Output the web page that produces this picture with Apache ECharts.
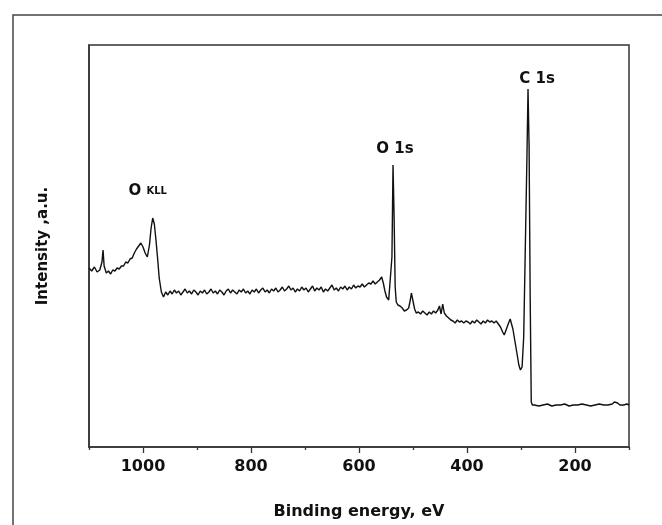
<!DOCTYPE html>
<html>
<head>
<meta charset="utf-8">
<script src="https://cdn.jsdelivr.net/npm/echarts@6/dist/echarts.min.js"></script>
<style>html,body{margin:0;padding:0;background:#fff;}#c{width:662px;height:525px;}</style>
</head>
<body>
<div id="c"></div>
<script>
// Binding energy (eV) and intensity (a.u.)
const energy = [
 1100,1095,1090,1085,1080,1076,1074,1072,1068,1064,1060,1056,1052,1048,1044,1040,1036,1032,1028,1024,
 1020,1016,1012,1008,1004,1000,996,992,988,985,982,979,976,973,970,966,962,958,954,950,
 946,942,938,934,930,926,922,918,914,910,906,902,898,894,890,886,882,878,874,870,
 866,862,858,854,850,846,842,838,834,830,826,822,818,814,810,806,802,798,794,790,
 786,782,778,774,770,766,762,758,754,750,746,742,738,734,730,726,722,718,714,710,
 706,702,698,694,690,686,682,678,674,670,666,662,658,654,650,646,642,638,634,630,
 626,622,618,614,610,606,602,598,594,590,586,582,578,574,
 570,566,562,558,555,552,549,545,542,539,537,535,533,531,528,524,520,516,512,508,
 505,503,500,497,494,490,486,482,478,474,470,466,462,458,454,451,448,445,442,438,
 434,430,426,422,418,414,410,406,402,398,394,390,386,382,378,374,370,366,362,358,
 354,350,346,342,338,334,331,327,323,320,318,315,311,307,304,301,298,295,292,289,
 287,285,283,281,279,275,267,259,251,243,235,227,219,211,203,195,187,179,171,163,
 155,147,139,131,127,124,121,117,110,104,100
];
const intensity = [
 179,176,180,175,177,185,197,181,174,176,173,177,176,179,178,181,181,185,184,188,
 189,194,198,201,204,200,194,190,202,219,229,223,207,189,169,155,150,155,152,156,
 153,157,154,156,152,155,158,154,156,153,157,155,152,156,154,157,153,155,158,154,
 156,153,157,155,152,156,158,154,157,155,153,157,155,158,154,156,153,157,155,158,
 154,157,159,155,157,154,158,156,159,155,157,160,156,158,161,157,159,155,158,156,
 160,157,159,155,158,161,156,159,157,160,155,158,156,159,162,157,159,156,160,158,
 161,157,160,158,162,159,161,160,163,160,162,164,163,166,
 163,165,167,170,164,156,150,147,145,190,282,230,160,145,142,141,139,136,137,139,
 147,154,146,138,134,135,133,136,134,132,135,133,136,134,137,141,133,143,134,131,
 129,127,126,124,127,125,126,124,126,125,123,126,124,127,125,123,126,124,127,125,
 126,124,126,123,120,115,112,118,124,128,127,118,105,92,82,77,80,110,200,290,
 358,300,150,45,42,42,41,42,43,41,42,42,43,41,42,42,43,42,41,42,
 43,42,42,43,45,47,44,42,42,43,42
];
const majorTicks = [1000, 800, 600, 400, 200];
const minorTicks = [1100, 900, 700, 500, 300, 100];
const peakNames = ['O KLL', 'O 1s', 'C 1s'];
const peakEnergy = [982, 537, 287];
const peakIntensity = [229, 282, 358];

const seriesData = energy.map((e, i) => [e, intensity[i]]);
const FONT = 'DejaVu Sans';
const labelOffsets = [[-5, -27], [2, -16], [9, -10]];

const chart = echarts.init(document.getElementById('c'), null, {renderer: 'canvas'});
chart.setOption({
  backgroundColor: '#ffffff',
  animation: false,
  graphic: [{
    type: 'rect', z: -1,
    shape: {x: 13, y: 15, width: 700, height: 600},
    style: {fill: 'none', stroke: '#444', lineWidth: 1.5}
  }],
  grid: {left: 89, right: 33, top: 45, bottom: 78, show: true,
         borderColor: '#333', borderWidth: 1.5, backgroundColor: 'transparent'},
  xAxis: [{
    type: 'value', min: 100, max: 1100, inverse: true, position: 'bottom',
    name: 'Binding energy, eV', nameLocation: 'middle', nameGap: 57,
    nameTextStyle: {fontFamily: FONT, fontWeight: 'bold', fontSize: 16, color: '#111'},
    axisLine: {show: true, lineStyle: {color: '#333', width: 1.5}},
    axisTick: {show: true, customValues: majorTicks, length: 6, inside: false, lineStyle: {color: '#333', width: 1.3}},
    axisLabel: {show: true, customValues: majorTicks, margin: 12, formatter: v => String(v),
      fontFamily: FONT, fontWeight: 'bold', fontSize: 16, color: '#111'},
    splitLine: {show: false}
  }, {
    type: 'value', min: 100, max: 1100, inverse: true, position: 'bottom', show: true, gridIndex: 0,
    axisLine: {show: false},
    axisTick: {show: true, customValues: minorTicks, length: 3, lineStyle: {color: '#333', width: 1.3}},
    axisLabel: {show: true, customValues: minorTicks, formatter: () => '', fontSize: 1},
    splitLine: {show: false}
  }],
  yAxis: {
    type: 'value', min: 0, max: 402,
    name: 'Intensity ,a.u.', nameLocation: 'middle', nameGap: 38,
    nameTextStyle: {fontFamily: FONT, fontWeight: 'bold', fontSize: 15, color: '#111'},
    axisLine: {show: true, lineStyle: {color: '#333', width: 1.5}},
    axisTick: {show: false}, axisLabel: {show: false}, splitLine: {show: false}
  },
  series: [{
    type: 'line', xAxisIndex: 0, data: seriesData, showSymbol: false,
    lineStyle: {color: '#111', width: 1.4}, z: 5,
    markPoint: {
      symbol: 'circle', symbolSize: 0,
      data: peakNames.map((n, i) => ({
        coord: [peakEnergy[i], peakIntensity[i]], value: n,
        label: {
          show: true, position: 'inside', offset: labelOffsets[i],
          formatter: i === 0 ? '{a|O} {b|KLL}' : n,
          fontFamily: FONT, fontWeight: 'bold', fontSize: 15, color: '#111',
          rich: {
            a: {fontFamily: FONT, fontWeight: 'bold', fontSize: 15, color: '#111'},
            b: {fontFamily: FONT, fontWeight: 'bold', fontSize: 10, color: '#111'}
          }
        }
      }))
    }
  }]
});
</script>
</body>
</html>
